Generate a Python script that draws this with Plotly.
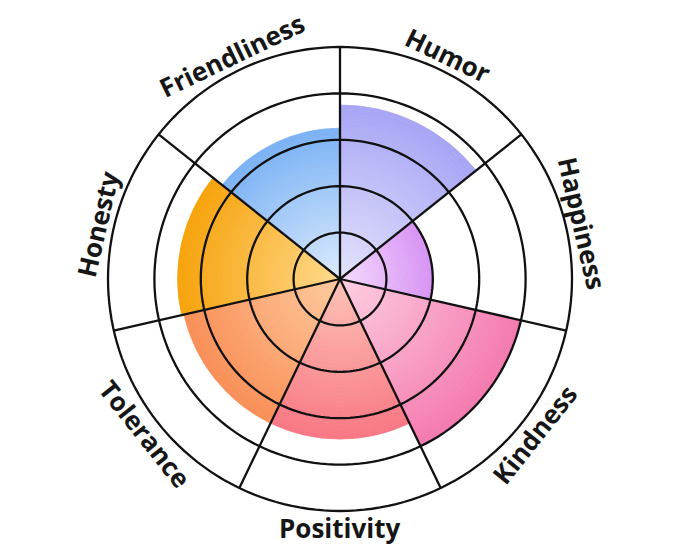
import math
import plotly.graph_objects as go

# ---- data ----
categories = ["Humor", "Happiness", "Kindness", "Positivity", "Tolerance", "Honesty", "Friendliness"]
values = [75, 40, 80, 69, 69, 70, 65]
ring_values = [20, 40, 60, 80, 100]
inner_colors = ["#E4E3FC", "#F3DCFD", "#FDD0E2", "#FDC3B6", "#FECB9E", "#FFDA8E", "#DCEBFD"]
outer_colors = ["#A7A5F5", "#D893F4", "#F47AAE", "#F87884", "#F98F58", "#F6A30C", "#7BB2F4"]

W, H = 680, 557
OFF = 8                      # page body margin
CX, CY, R = 340 - OFF, 279 - OFF, 232  # polar centre / radius in figure px
RMAX = 102                   # radial range slightly beyond outer ring so it is not clipped
RD = R * RMAX / ring_values[-1]

n = len(categories)
step = 360 / n
thetas = [i * step + step / 2 for i in range(n)]


def hex2rgb(h):
    h = h.lstrip("#")
    return tuple(int(h[i:i + 2], 16) for i in (0, 2, 4))


def mix(c1, c2, t):
    a, b = hex2rgb(c1), hex2rgb(c2)
    return "rgb(%d,%d,%d)" % tuple(round(a[i] + (b[i] - a[i]) * t) for i in range(3))


fig = go.Figure()

# gradient bars: each bar split into thin slices coloured inner -> outer
N = 40
for k in range(N):
    t = (k + 0.5) / N
    cols = [mix(inner_colors[i], outer_colors[i], t) for i in range(n)]
    fig.add_trace(go.Barpolar(
        theta=thetas,
        r=[v / N for v in values],
        base=[v * k / N for v in values],
        width=[step] * n,
        marker=dict(color=cols, line=dict(color=cols, width=0.8)),
        hoverinfo="skip",
        showlegend=False,
    ))

# rings (drawn above bars)
circ = [i * 2 for i in range(181)]
for rv in ring_values:
    fig.add_trace(go.Scatterpolar(
        theta=circ, r=[rv] * len(circ), mode="lines",
        line=dict(color="#111111", width=2.3), hoverinfo="skip", showlegend=False))

# spokes
for i in range(n):
    fig.add_trace(go.Scatterpolar(
        theta=[i * step, i * step], r=[0, ring_values[-1]], mode="lines",
        line=dict(color="#111111", width=2.3), hoverinfo="skip", showlegend=False))

# curved-ish labels as rotated annotations
annotations = []
label_r = R + 17
for i, cat in enumerate(categories):
    phi = thetas[i]
    x = CX + label_r * math.sin(math.radians(phi))
    y = CY - label_r * math.cos(math.radians(phi))
    if phi < 100:
        ang = phi
    elif phi > 260:
        ang = phi - 360
    else:
        ang = phi - 180
    annotations.append(dict(
        x=x / W, y=1 - y / H, xref="paper", yref="paper",
        text="<b>%s</b>" % cat, showarrow=False, textangle=ang,
        xanchor="center", yanchor="middle",
        font=dict(family="Open Sans", size=26, color="#161616")))

fig.update_layout(
    width=W, height=H,
    margin=dict(l=0, r=0, t=0, b=0),
    paper_bgcolor="white", plot_bgcolor="white",
    polar=dict(
        domain=dict(x=[(CX - RD) / W, (CX + RD) / W], y=[(H - CY - RD) / H, (H - CY + RD) / H]),
        bgcolor="white",
        bargap=0,
        radialaxis=dict(range=[0, RMAX], showgrid=False, showticklabels=False,
                        ticks="", showline=False),
        angularaxis=dict(rotation=90, direction="clockwise", showgrid=False,
                         showticklabels=False, ticks="", showline=False),
    ),
    annotations=annotations,
)

fig.write_html("out.html")
